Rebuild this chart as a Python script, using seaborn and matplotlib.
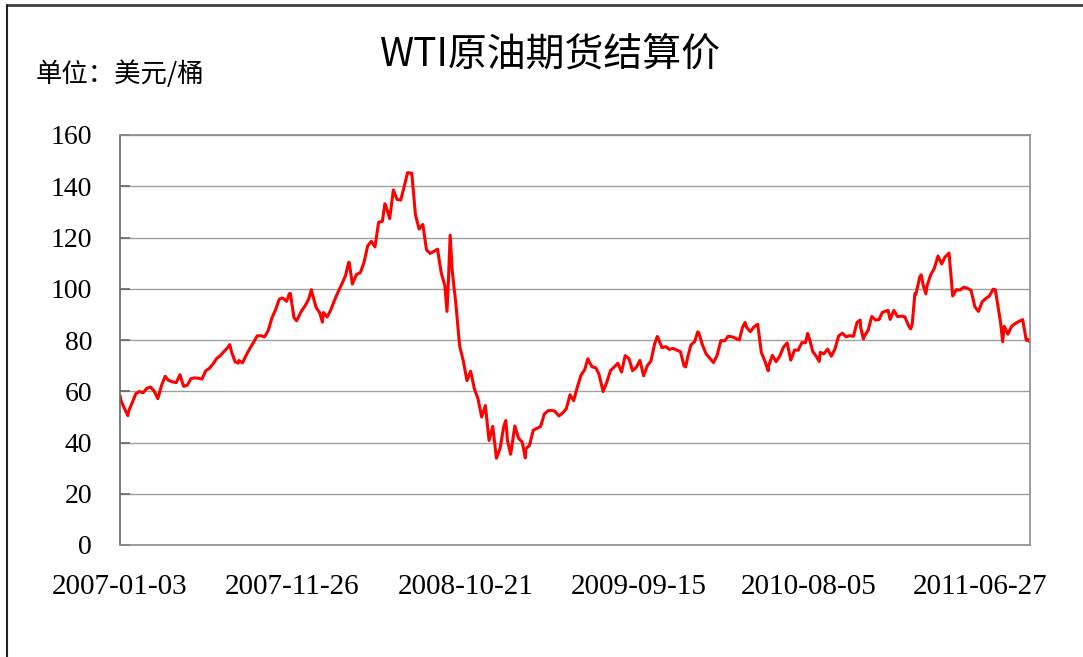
import pandas as pd
import seaborn as sns
from matplotlib import pyplot as plt
from matplotlib.lines import Line2D

# WTI front-month settlement, sampled roughly weekly plus the turning points
dates = [
    # 2007
    '2007-01-03', '2007-01-05', '2007-01-12', '2007-01-18', '2007-01-19', '2007-01-26',
    '2007-02-02', '2007-02-09', '2007-02-16', '2007-02-23', '2007-03-02', '2007-03-09',
    '2007-03-16', '2007-03-23', '2007-03-30', '2007-04-05', '2007-04-13', '2007-04-20',
    '2007-04-27', '2007-05-04', '2007-05-11', '2007-05-18', '2007-05-25', '2007-06-01',
    '2007-06-08', '2007-06-15', '2007-06-22', '2007-06-29', '2007-07-06', '2007-07-13',
    '2007-07-20', '2007-07-27', '2007-07-31', '2007-08-03', '2007-08-10', '2007-08-16',
    '2007-08-17', '2007-08-24', '2007-08-31', '2007-09-07', '2007-09-14', '2007-09-21',
    '2007-09-28', '2007-10-05', '2007-10-12', '2007-10-19', '2007-10-26', '2007-11-02',
    '2007-11-07', '2007-11-09', '2007-11-16', '2007-11-21', '2007-11-23', '2007-11-30',
    '2007-12-05', '2007-12-07', '2007-12-14', '2007-12-21', '2007-12-28',
    # 2008
    '2008-01-02', '2008-01-04', '2008-01-11', '2008-01-18', '2008-01-23', '2008-01-25',
    '2008-02-01', '2008-02-08', '2008-02-15', '2008-02-22', '2008-02-29', '2008-03-07',
    '2008-03-13', '2008-03-14', '2008-03-20', '2008-03-28', '2008-04-04', '2008-04-11',
    '2008-04-18', '2008-04-25', '2008-05-02', '2008-05-09', '2008-05-16', '2008-05-21',
    '2008-05-23', '2008-05-30', '2008-06-06', '2008-06-13', '2008-06-20', '2008-06-27',
    '2008-07-03', '2008-07-11', '2008-07-18', '2008-07-25', '2008-08-01', '2008-08-08',
    '2008-08-15', '2008-08-22', '2008-08-29', '2008-09-05', '2008-09-12', '2008-09-16',
    '2008-09-19', '2008-09-22', '2008-09-26', '2008-10-03', '2008-10-10', '2008-10-17',
    '2008-10-24', '2008-10-31', '2008-11-07', '2008-11-14', '2008-11-21', '2008-11-28',
    '2008-12-05', '2008-12-12', '2008-12-19', '2008-12-26',
    # 2009
    '2009-01-02', '2009-01-06', '2009-01-09', '2009-01-15', '2009-01-16', '2009-01-23',
    '2009-01-30', '2009-02-06', '2009-02-12', '2009-02-13', '2009-02-20', '2009-02-27',
    '2009-03-06', '2009-03-13', '2009-03-20', '2009-03-27', '2009-04-03', '2009-04-09',
    '2009-04-17', '2009-04-24', '2009-05-01', '2009-05-08', '2009-05-15', '2009-05-22',
    '2009-05-29', '2009-06-05', '2009-06-11', '2009-06-12', '2009-06-19', '2009-06-26',
    '2009-07-02', '2009-07-10', '2009-07-17', '2009-07-24', '2009-07-31', '2009-08-07',
    '2009-08-14', '2009-08-21', '2009-08-28', '2009-09-04', '2009-09-11', '2009-09-18',
    '2009-09-25', '2009-10-02', '2009-10-09', '2009-10-16', '2009-10-21', '2009-10-23',
    '2009-10-30', '2009-11-06', '2009-11-13', '2009-11-20', '2009-11-27', '2009-12-04',
    '2009-12-11', '2009-12-14', '2009-12-18', '2009-12-24', '2009-12-31',
    # 2010
    '2010-01-06', '2010-01-08', '2010-01-15', '2010-01-22', '2010-01-29', '2010-02-05',
    '2010-02-12', '2010-02-19', '2010-02-26', '2010-03-05', '2010-03-12', '2010-03-19',
    '2010-03-26', '2010-04-01', '2010-04-06', '2010-04-09', '2010-04-16', '2010-04-23',
    '2010-04-30', '2010-05-07', '2010-05-14', '2010-05-20', '2010-05-21', '2010-05-28',
    '2010-06-04', '2010-06-11', '2010-06-18', '2010-06-25', '2010-07-02', '2010-07-09',
    '2010-07-16', '2010-07-23', '2010-07-30', '2010-08-03', '2010-08-06', '2010-08-13',
    '2010-08-20', '2010-08-25', '2010-08-27', '2010-09-03', '2010-09-10', '2010-09-17',
    '2010-09-24', '2010-10-01', '2010-10-08', '2010-10-15', '2010-10-22', '2010-10-29',
    '2010-11-05', '2010-11-11', '2010-11-12', '2010-11-17', '2010-11-19', '2010-11-26',
    '2010-12-03', '2010-12-10', '2010-12-17', '2010-12-23', '2010-12-31',
    # 2011
    '2011-01-03', '2011-01-07', '2011-01-14', '2011-01-21', '2011-01-28', '2011-02-04',
    '2011-02-11', '2011-02-15', '2011-02-18', '2011-02-23', '2011-02-25', '2011-03-04',
    '2011-03-07', '2011-03-11', '2011-03-16', '2011-03-18', '2011-03-25', '2011-04-01',
    '2011-04-08', '2011-04-15', '2011-04-21', '2011-04-29', '2011-05-06', '2011-05-13',
    '2011-05-20', '2011-05-27', '2011-06-03', '2011-06-10', '2011-06-17', '2011-06-24',
    '2011-07-01', '2011-07-08', '2011-07-15', '2011-07-22', '2011-07-26', '2011-07-29',
    '2011-08-05', '2011-08-08', '2011-08-09', '2011-08-12', '2011-08-19', '2011-08-26',
    '2011-09-02', '2011-09-09', '2011-09-16', '2011-09-23', '2011-09-26', '2011-09-30',
]

prices = [
    # 2007
    58.32, 56.31, 52.99, 50.48, 51.99, 55.42,
    59.02, 59.89, 59.39, 61.14, 61.64, 60.05,
    57.11, 62.28, 65.87, 64.28, 63.63, 63.38,
    66.46, 61.93, 62.37, 64.94, 65.20, 65.08,
    64.76, 68.00, 68.95, 70.68, 72.81, 73.93,
    75.57, 77.02, 78.21, 75.48, 71.47, 71.00,
    71.98, 71.09, 74.04, 76.70, 79.10, 81.62,
    81.66, 81.22, 83.69, 88.60, 91.86, 95.93,
    96.37, 96.32, 95.10, 98.03, 98.18, 88.71,
    87.49, 88.28, 91.27, 93.31, 96.00,
    # 2008
    99.62, 97.91, 92.69, 90.57, 86.99, 90.71,
    88.96, 91.77, 95.50, 98.81, 101.84, 105.15,
    110.33, 110.21, 101.84, 105.62, 106.23, 110.14,
    116.69, 118.52, 116.32, 125.96, 126.29, 133.17,
    132.19, 127.35, 138.54, 134.86, 134.62, 140.21,
    145.29, 145.08, 128.88, 123.26, 125.10, 115.20,
    113.77, 114.59, 115.46, 106.23, 101.18, 91.15,
    104.55, 120.92, 106.89, 93.88, 77.70, 71.85,
    64.15, 67.81, 61.04, 57.04, 49.93, 54.43,
    40.81, 46.28, 33.87, 37.71,
    # 2009
    46.34, 48.58, 40.83, 35.40, 36.51, 46.47,
    41.68, 40.17, 33.98, 37.51, 38.94, 44.76,
    45.52, 46.25, 51.06, 52.38, 52.51, 52.24,
    50.33, 51.55, 53.20, 58.63, 56.34, 61.67,
    66.31, 68.44, 72.68, 72.04, 69.55, 69.16,
    66.73, 59.89, 63.56, 68.05, 69.45, 70.93,
    67.51, 73.89, 72.74, 68.02, 69.29, 72.04,
    66.02, 69.95, 71.77, 78.53, 81.37, 80.50,
    77.00, 77.43, 76.35, 76.72, 76.05, 75.47,
    69.87, 69.51, 73.36, 78.05, 79.36,
    # 2010
    83.18, 82.75, 78.00, 74.54, 72.89, 71.19,
    74.13, 79.81, 79.66, 81.50, 81.24, 80.68,
    80.00, 84.87, 86.84, 84.92, 83.24, 85.12,
    86.15, 75.11, 71.61, 68.01, 70.04, 74.00,
    71.51, 73.78, 77.18, 78.86, 72.14, 76.09,
    76.01, 78.98, 78.95, 82.55, 80.70, 75.39,
    73.46, 71.63, 75.17, 74.60, 76.45, 73.66,
    76.49, 81.58, 82.66, 81.25, 81.69, 81.43,
    86.85, 87.81, 84.88, 80.44, 81.51, 83.76,
    89.19, 87.79, 88.02, 90.76, 91.38,
    # 2011
    91.55, 88.03, 91.54, 89.11, 89.34, 89.03,
    85.58, 84.32, 86.20, 98.10, 97.88, 104.42,
    105.44, 101.16, 97.98, 101.07, 105.40, 107.94,
    112.79, 109.66, 112.29, 113.93, 97.18, 99.65,
    99.49, 100.59, 100.22, 99.29, 93.01, 91.16,
    94.94, 96.20, 97.24, 99.87, 99.59, 95.70,
    86.88, 81.31, 79.30, 85.38, 82.26, 85.37,
    86.45, 87.24, 87.96, 79.85, 80.24, 79.20,
]

tick_dates = ['2007-01-03', '2007-11-26', '2008-10-21', '2009-09-15', '2010-08-05', '2011-06-27']
y_ticks = [0, 20, 40, 60, 80, 100, 120, 140, 160]

title = 'WTI原油期货结算价'
unit = '单位：美元/桶'

sns.set_theme(style='white')
plt.rcParams['font.family'] = ['Noto Sans CJK SC', 'DejaVu Sans']
plt.rcParams['text.color'] = 'black'

df = pd.DataFrame({'date': pd.to_datetime(dates), 'price': prices})

W, H = 1083, 657
fig = plt.figure(figsize=(W / 100, H / 100), dpi=100)
ax = fig.add_axes([120 / W, 112 / H, 910 / W, 410 / H])

sns.lineplot(data=df, x='date', y='price', ax=ax, color='#ff0000',
             linewidth=2.2, estimator=None)

ax.set_xlim(df['date'].iloc[0], df['date'].iloc[-1])
ax.set_ylim(0, 160)
ax.set_yticks(y_ticks)
ax.set_yticklabels([str(v) for v in y_ticks], family=['Liberation Serif'],
                   fontsize=20, color='black')
ax.set_xticks(pd.to_datetime(tick_dates))
ax.set_xticklabels(tick_dates, family=['Liberation Serif'], fontsize=21, color='black')
ax.set_xlabel('')
ax.set_ylabel('')

ax.grid(axis='y', color='#a0a0a0', linewidth=1)
ax.grid(axis='x', visible=False)
for s in ax.spines.values():
    s.set_color('#8c8c8c')
    s.set_linewidth(1.2)
ax.spines['left'].set_color('#666666')

ax.tick_params(axis='y', direction='in', length=7, width=1.2, color='#666666', pad=20, left=True)
ax.tick_params(axis='x', length=0, pad=21)

fig.text(550 / W, 1 - 55 / H, title, ha='center', va='center', fontsize=28, color='black')
fig.text(36 / W, 1 - 74 / H, unit, ha='left', va='center', fontsize=19, color='black')

# outer chart frame (top and left edges visible)
fig.add_artist(Line2D([7 / W, 1], [1 - 5 / H, 1 - 5 / H], transform=fig.transFigure,
                      color='#404040', linewidth=2))
fig.add_artist(Line2D([7 / W, 7 / W], [0, 1 - 5 / H], transform=fig.transFigure,
                      color='#202020', linewidth=1.5))

fig.savefig('out.png', dpi=100)
